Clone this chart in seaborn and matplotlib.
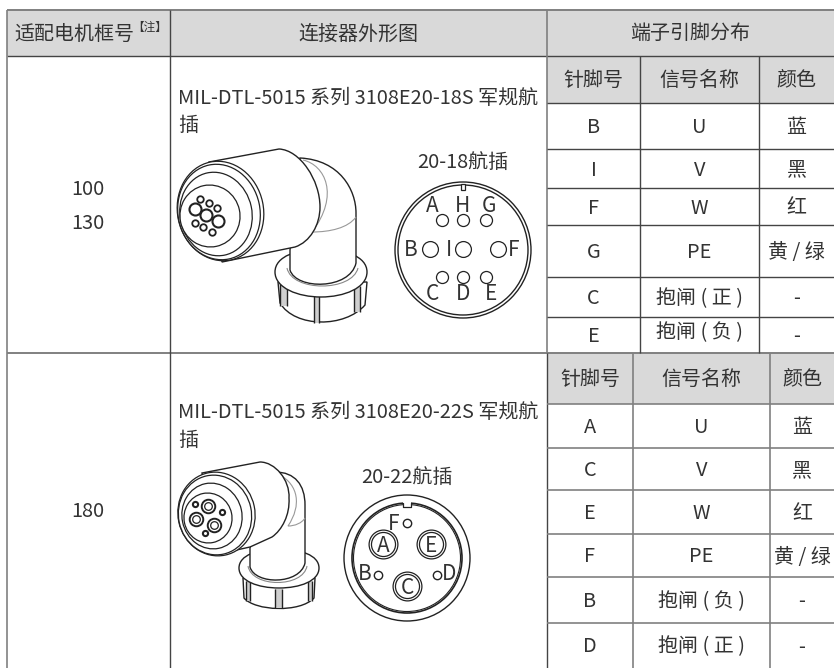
import matplotlib

matplotlib.use("Agg")
import matplotlib.pyplot as plt
import seaborn as sns
from matplotlib.patches import Circle, Ellipse, PathPatch, Rectangle
from matplotlib.path import Path

# table text
headers = ["适配电机框号", "连接器外形图", "端子引脚分布"]
sub_headers = ["针脚号", "信号名称", "颜色"]
frames_a = ["100", "130"]
frames_b = ["180"]
pins_a = ["B", "I", "F", "G", "C", "E"]
signals_a = ["U", "V", "W", "PE", "抱闸 ( 正 )", "抱闸 ( 负 )"]
colors_a = ["蓝", "黑", "红", "黄 / 绿", "-", "-"]
pins_b = ["A", "C", "E", "F", "B", "D"]
signals_b = ["U", "V", "W", "PE", "抱闸 ( 负 )", "抱闸 ( 正 )"]
colors_b = ["蓝", "黑", "红", "黄 / 绿", "-", "-"]
desc_a = ["MIL-DTL-5015 系列 3108E20-18S 军规航", "插"]
desc_b = ["MIL-DTL-5015 系列 3108E20-22S 军规航", "插"]

# table layout
rows_a = [56, 103, 149, 188, 225, 277, 317, 353]
rows_b = [353, 404, 448, 490, 534, 577, 623, 668]
cols_a = [547, 640, 759, 834]
cols_b = [547, 633, 770, 834]

INK = "#333333"
LINE = "#444444"
BORDER = "#808080"
HEAD = "#d9d9d9"
DRAW = "#222222"

sns.set_theme(style="white")
plt.rcParams["font.family"] = ["Noto Sans CJK SC", "DejaVu Sans"]

fig, ax = plt.subplots(figsize=(8.34, 6.68), dpi=100)
ax.set_position([0, 0, 1, 1])


def label(x, y, s, size=14.4, ha="center"):
    ax.text(x, y + 1.5, s, fontsize=size, color=INK, ha=ha, va="center", fontweight="light", zorder=10)


def shade(x0, y0, x1, y1, c=HEAD, z=0):
    ax.add_patch(Rectangle((x0, y0), x1 - x0, y1 - y0, fc=c, ec="none", zorder=z))


def hline(y, x0, x1, c=LINE, lw=1.0):
    ax.plot([x0, x1], [y, y], color=c, lw=lw, zorder=5, solid_capstyle="butt")


def vline(x, y0, y1, c=LINE, lw=1.0, z=5):
    ax.plot([x, x], [y0, y1], color=c, lw=lw, zorder=z, solid_capstyle="butt")


def curve(points, closed=False, fc="white", ec=DRAW, lw=1.0, z=2):
    # first point is a move, then triples for bezier or singles for straight lines
    verts = [points[0]]
    codes = [Path.MOVETO]
    for p in points[1:]:
        if len(p) == 3:
            verts += list(p)
            codes += [Path.CURVE4] * 3
        else:
            verts.append(p)
            codes.append(Path.LINETO)
    if closed:
        verts.append(points[0])
        codes.append(Path.CLOSEPOLY)
    ax.add_patch(PathPatch(Path(verts, codes), fc=fc if closed else "none", ec=ec, lw=lw, zorder=z))


def rings(items, angle=-12, z=4):
    for cx, cy, rx, ry in items:
        ax.add_patch(Ellipse((cx, cy), 2 * rx, 2 * ry, angle=angle, fc="white", ec=DRAW, lw=0.9, zorder=z))
        z += 0.01


def holes(xs, ys, s, lw=1.0):
    sns.scatterplot(x=xs, y=ys, s=s, marker="o", facecolor="white", edgecolor=DRAW,
                    linewidth=lw, legend=False, ax=ax, zorder=6)


# header shading
shade(7, 10, 834, rows_a[0])
shade(547, rows_a[0], 834, rows_a[1])
shade(547, rows_b[0], 834, rows_b[1])

# grid, the table has no bottom or right border in the picture
hline(10, 7, 834, BORDER, 1.4)
hline(56, 7, 834, LINE)
hline(353, 7, 834, BORDER, 1.4)
vline(7, 10, 668, BORDER, 1.2)
vline(170, 10, 668)
vline(547, 10, 353, BORDER, 1.2)
vline(547, 353, 668, LINE)
for y in rows_a[1:-1]:
    hline(y, 547, 834)
for y in rows_b[1:-1]:
    hline(y, 547, 834, BORDER, 1.2)
for x in cols_a[1:3]:
    vline(x, 56, 353)
for x in cols_b[1:3]:
    vline(x, 353, 668, BORDER, 1.2)

# headers
label(74, 33, headers[0])
label(150, 26, "【注】", size=8.4)
label(358, 33, headers[1])
label(690, 32, headers[2])

for top, rows, cols, subs, pin_list, sig_list, col_list in [
    (True, rows_a, cols_a, sub_headers, pins_a, signals_a, colors_a),
    (False, rows_b, cols_b, sub_headers, pins_b, signals_b, colors_b),
]:
    mids = [(cols[i] + cols[i + 1]) / 2 for i in range(3)]
    ymid = (rows[0] + rows[1]) / 2
    for m, s in zip(mids, subs):
        label(m, ymid - 1, s)
    for i, (p, sg, c) in enumerate(zip(pin_list, sig_list, col_list)):
        y = (rows[i + 1] + rows[i + 2]) / 2
        label(mids[0], y, p)
        label(mids[1], y - (4 if top and i == 5 else 0), sg)
        label(mids[2], y, c)

# frame sizes
label(88, 188, frames_a[0])
label(88, 222, frames_a[1])
label(88, 510, frames_b[0])

# description text
label(178, 97, desc_a[0], ha="left")
label(178, 124, desc_a[1], ha="left")
label(178, 411, desc_b[0], ha="left")
label(178, 439, desc_b[1], ha="left")

# connector 1, nut then elbow then barrel then face
curve([(278, 282), (280, 303), ((295, 328), (345, 328), (365, 305)), (367, 282)], closed=True)
for x0, x1, y0, y1 in [(280, 287, 284, 306), (314, 319, 296, 323), (354, 360, 286, 312)]:
    shade(x0, y0, x1, y1, "#cfcfcf", 2.1)
    vline(x0, y0, y1, DRAW, 1.0, 2.15)
    vline(x1, y0, y1, DRAW, 1.0, 2.15)
curve([(275, 272), ((275, 256), (298, 249), (321, 249)), ((344, 249), (367, 256), (367, 272)), ((367, 288), (344, 297), (321, 297)), ((298, 297), (275, 288), (275, 272))], closed=True, z=2.2)
curve([(290, 250), (290, 270), ((296, 290), (350, 290), (356, 263)), (356, 213), ((356, 190), (340, 160), (300, 158))], closed=True, z=2.4)
curve([(287, 268), ((292, 292), (352, 292), (358, 268))], z=2.5, ec="#888888", lw=0.8)
curve([(303, 160), ((325, 165), (340, 195), (312, 232)), ((330, 232), (348, 228), (356, 217))], ec="#999999", lw=0.8, z=2.6)
curve([(209, 162), (279, 149), ((300, 150), (320, 180), (320, 207)), ((320, 225), (310, 242), (295, 247)), (222, 262)], closed=True, z=3)
rings([(220.5, 211, 43, 50), (219, 212, 41, 48), (216, 214, 36, 42), (210, 216, 30, 31)])
holes([195, 206, 218], [209, 215, 221], 75, 1.5)
holes([200, 209, 217, 195, 203, 212], [199, 203, 208, 223, 227, 232], 22, 1.3)

# connector 1 pin layout
label(463, 161, "20-18航插", size=14.4)
ax.add_patch(Circle((463, 250), 68, fc="white", ec=DRAW, lw=1.0, zorder=2))
ax.add_patch(Circle((463, 250), 65, fc="white", ec=DRAW, lw=1.0, zorder=2.1))
ax.add_patch(Rectangle((461, 184), 4, 6, fc="white", ec=DRAW, lw=0.9, zorder=2.2))
holes([442, 463, 486, 442, 463, 486], [220, 220, 220, 277, 277, 277], 75, 0.9)
holes([430, 463, 498], [249, 249, 249], 130, 0.9)
for x, y, s in zip([432, 463, 489, 411, 449, 514, 432, 463, 491],
                   [204, 204, 204, 248, 248, 248, 293, 293, 293], "AHGBIFCDE"):
    label(x, y, s, size=15)

# connector 2
curve([(243, 578), (244, 598), ((255, 611), (300, 613), (314, 598)), (315, 578)], closed=True)
for x0, x1, y0, y1 in [(246, 250, 581, 601), (275, 282, 589, 608), (308, 312, 581, 601)]:
    shade(x0, y0, x1, y1, "#cfcfcf", 2.1)
    vline(x0, y0, y1, DRAW, 1.0, 2.15)
    vline(x1, y0, y1, DRAW, 1.0, 2.15)
curve([(239, 568), ((239, 555), (258, 549), (279, 549)), ((300, 549), (319, 555), (319, 568)), ((319, 581), (300, 588), (279, 588)), ((258, 588), (239, 581), (239, 568))], closed=True, z=2.2)
curve([(250, 548), (250, 567), ((255, 585), (300, 585), (305, 563)), (305, 505), ((305, 485), (295, 472), (275, 472))], closed=True, z=2.4)
curve([(248, 566), ((252, 588), (303, 588), (307, 566))], ec="#888888", lw=0.8, z=2.5)
curve([(280, 475), ((298, 485), (302, 505), (288, 526)), ((295, 526), (302, 523), (305, 518))], ec="#999999", lw=0.8, z=2.6)
curve([(202, 473), (260, 462), ((275, 462), (290, 480), (289, 498)), ((290, 515), (282, 530), (272, 537)), (250, 547), (214, 555)], closed=True, z=3)
rings([(216.5, 514, 38.5, 42), (215, 515, 36.5, 40), (212, 516, 30, 33), (208, 518, 24, 25)])
holes([208, 196, 214], [506, 519, 525], 95, 1.4)
holes([208, 196, 214], [506, 519, 525], 30, 0.9)
holes([195, 222, 205], [504, 512, 533], 14, 1.5)

# connector 2 pin layout
label(407, 476, "20-22航插", size=14.4)
ax.add_patch(Circle((407, 558), 63, fc="white", ec=DRAW, lw=1.0, zorder=2))
ax.add_patch(Circle((407, 558), 55, fc="white", ec=DRAW, lw=1.2, zorder=2.1))
ax.add_patch(Circle((407, 558), 53.5, fc="white", ec=DRAW, lw=0.8, zorder=2.15))
ax.add_patch(Rectangle((403, 502), 8, 5, fc="white", ec="none", zorder=2.2))
ax.plot([403, 403, 411, 411], [503, 507, 507, 503], color=DRAW, lw=0.9, zorder=2.25)
holes([383, 431, 407], [544, 544, 586], 430, 0.9)
holes([383, 431, 407], [544, 544, 586], 300, 0.9)
holes([407, 378, 437], [523, 575, 575], 36, 1.0)
for x, y, s in zip([394, 383, 431, 365, 449, 407], [522, 544, 544, 572, 572, 586], "FAEBDC"):
    label(x, y, s, size=15)

ax.set_xlim(0, 834)
ax.set_ylim(668, 0)
ax.axis("off")

fig.savefig("out.png", dpi=100, facecolor="white")
